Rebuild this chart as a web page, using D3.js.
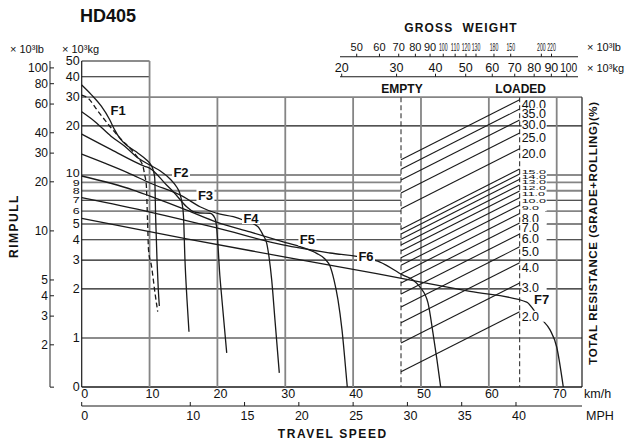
<!DOCTYPE html>
<html><head><meta charset="utf-8">
<script src="https://cdn.jsdelivr.net/npm/d3@7"></script>
<style>
body{margin:0;background:#fff}
text{font-family:"Liberation Sans",Arial,Helvetica,sans-serif;fill:#111}
</style>
</head><body>
<svg id="c" width="632" height="446"></svg>
<script>
// ---------------- DATA ----------------
const speedTicksKmh = [0,10,20,30,40,50,60,70];
const speedTicksMph = [0,10,15,20,25,30,35,40];
const rimpullKgTicks = [0.5,1,2,3,4,5,6,7,8,9,10,20,30,40,50];
const rimpullKgLabels = ["0","1","2","3","4","5","6","7","8","9","10","20","30","40","50"];
const rimpullLbTicks = [1.1,2,3,4,5,10,20,30,40,60,80,100];
const rimpullLbLabels = ["","2","3","4","5","10","20","30","40","60","80","100"];
const grossKgTicks = [20,30,40,50,60,70,80,90,100];
const grossLbTicks = [50,60,70,80,90,100,110,120,130,140,150,200,220];
const grossLbLabels = ["50","60","70","80","90","100","110","120","130","180","150","200","220"];
const resistance = [40,35,30,25,20,15,14,13,12,11,10,9,8,7,6,5,4,3,2];
const emptyWeight = 31;     // x10^3 kg
const loadedWeight = 72.4;  // x10^3 kg
const gearNames = ["F1","F2","F3","F4","F5","F6","F7"];
// curves: [speed km/h, rimpull x10^3 kg]
const F1 = [[0,35.6],[1.41,31.1],[2.89,26.4],[4.13,21.8],[4.86,18.9],[5.6,16.8],[6.82,15.0],[8.3,13.6],[9.52,12.4],[10.02,11.8],[10.51,10.8],[10.76,9.6],[10.9,5.44],[11.1,3.0],[11.29,1.97],[11.44,1.57]];
const F1dashed = [[0,30.9],[0.93,29.6],[2.4,24.6],[4.36,19.4],[5.84,16.5],[7.31,14.3],[8.3,12.7],[9.03,11.3],[9.28,10.0],[9.52,8.7],[9.7,5.3],[9.85,3.46],[10.3,2.74],[10.8,1.89],[11.2,1.45]];
const F2 = [[0,24.4],[1.92,21.3],[4.32,17.3],[6.34,15.0],[8.3,12.7],[10.06,11.5],[11.54,10.6],[13.02,9.44],[14.0,8.43],[14.49,7.64],[14.78,6.73],[15.0,5.6],[15.22,3.0],[15.52,1.71],[15.81,1.09]];
const F3 = [[0,17.8],[4.36,14.3],[9.28,11.3],[10.06,10.98],[12.5,8.67],[13.5,7.89],[15.46,6.38],[16.44,5.95],[17.43,5.84],[18.91,5.82],[19.64,5.42],[19.89,4.73],[20.08,3.72],[20.3,2.61],[20.67,1.71],[21.37,0.81]];
const F4 = [[0,13.4],[3.39,11.8],[6.82,10.3],[10.06,8.92],[14.97,7.36],[17.43,6.38],[19.89,5.82],[22.34,5.54],[23.77,5.29],[25.98,4.81],[26.72,4.28],[27.26,3.82],[27.6,3.15],[28.0,2.27],[28.48,1.29],[29.12,0.61]];
const F5 = [[0,9.85],[7.6,8.08],[10.06,7.42],[15.48,6.09],[19.89,5.14],[24.79,4.47],[29.7,3.89],[32.17,3.63],[34.63,3.3],[35.85,3.05],[36.59,2.76],[37.18,2.27],[37.77,1.71],[38.36,1.12],[39.05,0.55],[39.14,0.5]];
const F6 = [[0,7.25],[10.06,5.92],[19.89,4.73],[29.66,3.72],[36.59,3.32],[41.9,3.09],[43.96,2.92],[47.35,2.43],[48.82,2.27],[49.86,2.05],[51.03,1.64],[51.77,1.07],[52.36,0.73],[52.9,0.5]];
const F7 = [[0,5.42],[15.47,4.05],[29.22,3.18],[43.47,2.48],[57.22,1.93],[65.58,1.66],[66.8,1.45],[67.79,1.3],[69.02,1.12],[70.0,0.88],[70.97,0.5]];
const gearLabelAt = [[5.36,25.0],[14.63,10.3],[18.24,7.53],[24.95,5.44],[33.27,3.99],[41.9,3.14],[67.79,1.71]];

// ---------------- SCALES ----------------
const svg = d3.select("#c");
const x = d3.scaleLinear().domain([0,70]).range([81.7,556.7]);
const xRight = 582;
const xMph = d3.scaleLinear().domain([0,40]).range([x(0), x(64)]);
const y = d3.scaleLog().domain([0.5,50]).range([387,61]);
const yLb = v => y(v*0.4536);
const gw = d3.scaleLog().domain([20,50,100]).range([341.7,465.7,566.7]);
const gwLb = d3.scaleLog().domain([50,130,150,220]).range([356.7,476,510.7,551.5]);
const xE = gw(emptyWeight), xL = gw(loadedWeight);
const yTopMain = y(30), yBot = y(0.5);

const GRAY = "#858585", BLK = "#1a1a1a";
const gGrid = svg.append("g");
function hline(x1,x2,yy,col,w){gGrid.append("line").attr("x1",x1).attr("x2",x2).attr("y1",yy).attr("y2",yy).attr("stroke",col).attr("stroke-width",w);}
function vline(xx,y1,y2,col,w,dash){const l=gGrid.append("line").attr("x1",xx).attr("x2",xx).attr("y1",y1).attr("y2",y2).attr("stroke",col).attr("stroke-width",w); if(dash) l.attr("stroke-dasharray",dash);}

// horizontal grid
const grayRows = [30,9,8,6,5];
rimpullKgTicks.forEach(v=>{
  const yy = y(v);
  const col = grayRows.includes(v)?GRAY:BLK, w = grayRows.includes(v)?1.8:1.1;
  if (v>=40) hline(x(0), x(10), yy, col, w);
  else if (v>=4 && v<=10) { hline(x(0), xE, yy, col, w); hline(545, xRight, yy, col, w); }
  else if (v===0.5) hline(x(0), xRight, yy, BLK, 1.3);
  else hline(x(0), xRight, yy, col, w);
});
// vertical grid
speedTicksKmh.forEach(v=>{
  if (v===0) vline(x(0), y(50), yBot, BLK, 1.2);
  else if (v===10) vline(x(v), y(50), yBot, GRAY, 1.8);
  else vline(x(v), yTopMain, yBot, GRAY, 1.8);
});
vline(xRight, yTopMain, yBot, BLK, 1.2);
vline(xE, yTopMain, yBot, "#333", 1.1, "5,3");
vline(xL, yTopMain, yBot, "#333", 1.1, "5,3");

// resistance lines
const gRes = svg.append("g");
resistance.forEach(r=>{
  gRes.append("line").attr("x1",xE).attr("y1",y(emptyWeight*r/100))
    .attr("x2",xL).attr("y2",y(loadedWeight*r/100))
    .attr("stroke",BLK).attr("stroke-width",1.1);
});

// curves
const line = d3.line().x(d=>x(d[0])).y(d=>y(d[1])).curve(d3.curveMonotoneX);
const gCurves = svg.append("g").attr("fill","none").attr("stroke",BLK).attr("stroke-width",1.3);
[F1,F2,F3,F4,F5,F6,F7].forEach(c=>gCurves.append("path").attr("d",line(c)));
gCurves.append("path").attr("d",line(F1dashed)).attr("stroke-dasharray","5,3");

// resistance labels
const gResL = svg.append("g");
resistance.forEach(r=>{
  const yy = y(loadedWeight*r/100);
  const small = r>=9 && r<=15;
  const g = gResL.append("g").attr("transform",`translate(${xL+2},${yy+(small?3:5)})`);
  g.append("rect").attr("x",0).attr("y",small?-3:-6).attr("width",25).attr("height",small?6:11).attr("fill","#fff");
  g.append("text").text(r.toFixed(1)).attr("font-size",12.5).attr("dominant-baseline","central")
    .attr("transform",small?"scale(1,0.48)":null);
});

// gear labels
const gLab = svg.append("g");
gearNames.forEach((n,i)=>{
  const px = x(gearLabelAt[i][0]), py = y(gearLabelAt[i][1]);
  if (i>0) gLab.append("rect").attr("x",px-9).attr("y",py-6).attr("width",18).attr("height",12).attr("fill","#fff");
  gLab.append("text").text(n).attr("x",px).attr("y",py).attr("text-anchor","middle").attr("dominant-baseline","central")
    .attr("font-weight","bold").attr("font-size",13);
});

// ---------------- AXES ----------------
const gAx = svg.append("g");
rimpullKgTicks.forEach((v,i)=>{
  const squish = v>=6 && v<=9 ? 0.66 : (v===10 ? 0.8 : 1);
  gAx.append("text").text(rimpullKgLabels[i]).attr("text-anchor","end")
    .attr("dominant-baseline","central").attr("font-size",12.5)
    .attr("transform",`translate(${x(0)-2},${y(v)+(v===10?-1:0)}) scale(1,${squish})`);
});
// lb rimpull axis
const lbX = 50;
gAx.append("line").attr("x1",lbX).attr("x2",lbX).attr("y1",y(50)).attr("y2",yBot).attr("stroke",GRAY).attr("stroke-width",1.8);
rimpullLbTicks.forEach((v,i)=>{
  const yy = yLb(v);
  gAx.append("line").attr("x1",lbX).attr("x2",lbX+4).attr("y1",yy).attr("y2",yy).attr("stroke",BLK).attr("stroke-width",1);
  gAx.append("text").text(rimpullLbLabels[i]).attr("x",lbX-2).attr("y",yy).attr("text-anchor","end")
    .attr("dominant-baseline","central").attr("font-size",12);
});
// km/h labels
speedTicksKmh.forEach(v=>{
  gAx.append("text").text(v).attr("x",x(v)+3).attr("y",394).attr("text-anchor","middle").attr("dominant-baseline","central").attr("font-size",12.5);
});
gAx.append("text").text("km/h").attr("x",584).attr("y",394).attr("dominant-baseline","central").attr("font-size",12.5);
// MPH axis
const mphY = 406;
gAx.append("line").attr("x1",xMph(0)).attr("x2",xRight).attr("y1",mphY).attr("y2",mphY).attr("stroke",BLK).attr("stroke-width",1.2);
speedTicksMph.forEach(v=>{
  gAx.append("line").attr("x1",xMph(v)).attr("x2",xMph(v)).attr("y1",mphY-4).attr("y2",mphY).attr("stroke",BLK).attr("stroke-width",1);
  gAx.append("text").text(v).attr("x",xMph(v)+3).attr("y",416).attr("text-anchor","middle").attr("dominant-baseline","central").attr("font-size",12.5);
});
gAx.append("text").text("MPH").attr("x",586).attr("y",416).attr("dominant-baseline","central").attr("font-size",12.5);
gAx.append("text").text("TRAVEL SPEED").attr("x",x(37)).attr("y",434).attr("text-anchor","middle").attr("dominant-baseline","central")
  .attr("font-size",12).attr("font-weight","bold").attr("letter-spacing",1.6);

// gross weight axes
const lbAxY = 56.7, kgAxY = 76.7;
[lbAxY,kgAxY].forEach(yy=>gAx.append("line").attr("x1",340).attr("x2",578).attr("y1",yy).attr("y2",yy).attr("stroke",BLK).attr("stroke-width",1.1));
grossLbTicks.forEach((v,i)=>{
  const px = gwLb(v);
  gAx.append("line").attr("x1",px).attr("x2",px).attr("y1",lbAxY-3).attr("y2",lbAxY).attr("stroke",BLK).attr("stroke-width",1);
  const t = gAx.append("text").text(grossLbLabels[i]).attr("x",px).attr("y",47).attr("text-anchor","middle").attr("dominant-baseline","central").attr("font-size",v>=100?10:11);
  if (v>=100) t.attr("textLength",8.6).attr("lengthAdjust","spacingAndGlyphs");
});
grossKgTicks.forEach(v=>{
  const px = gw(v);
  gAx.append("line").attr("x1",px).attr("x2",px).attr("y1",kgAxY-3).attr("y2",kgAxY).attr("stroke",BLK).attr("stroke-width",1);
  const t = gAx.append("text").text(v).attr("x",px+ (v===100?2:0)).attr("y",67.5).attr("text-anchor","middle").attr("dominant-baseline","central").attr("font-size",12.5);
  if (v===100) t.attr("textLength",17).attr("lengthAdjust","spacingAndGlyphs");
});
gAx.append("text").text("× 10³lb").attr("x",587).attr("y",47).attr("dominant-baseline","central").attr("font-size",11);
gAx.append("text").text("× 10³kg").attr("x",587).attr("y",67.5).attr("dominant-baseline","central").attr("font-size",11);
gAx.append("text").text("GROSS  WEIGHT").attr("x",461).attr("y",28).attr("text-anchor","middle").attr("dominant-baseline","central")
  .attr("font-size",12).attr("font-weight","bold").attr("letter-spacing",1.2).style("white-space","pre");
gAx.append("text").text("EMPTY").attr("x",xE+1).attr("y",89).attr("text-anchor","middle").attr("dominant-baseline","central").attr("font-size",12).attr("font-weight","bold");
gAx.append("text").text("LOADED").attr("x",xL+1).attr("y",89).attr("text-anchor","middle").attr("dominant-baseline","central").attr("font-size",12).attr("font-weight","bold");

// titles
gAx.append("text").text("HD405").attr("x",80).attr("y",16).attr("dominant-baseline","central").attr("font-size",18).attr("font-weight","bold");
gAx.append("text").text("× 10³lb").attr("x",10).attr("y",49).attr("dominant-baseline","central").attr("font-size",11);
gAx.append("text").text("× 10³kg").attr("x",62).attr("y",49).attr("dominant-baseline","central").attr("font-size",11);
gAx.append("text").text("RIMPULL").attr("transform","translate(14,226) rotate(-90)").attr("text-anchor","middle").attr("dominant-baseline","central")
  .attr("font-size",12).attr("font-weight","bold").attr("letter-spacing",1.5);
gAx.append("text").text("TOTAL RESISTANCE (GRADE+ROLLING)(%)").attr("transform","translate(593,233) rotate(-90)").attr("text-anchor","middle").attr("dominant-baseline","central")
  .attr("font-size",11.5).attr("font-weight","bold").attr("letter-spacing",0.6);
</script>
</body></html>
